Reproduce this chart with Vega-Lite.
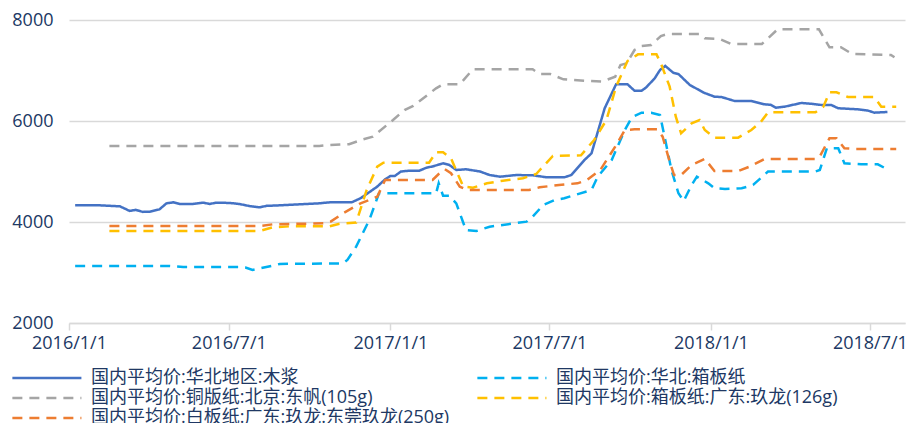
{
"$schema": "https://vega.github.io/schema/vega-lite/v6.json",
"width": 836, "height": 303,
"autosize": {"type": "none"},
"padding": {"left": 69, "top": 20, "right": 4, "bottom": 100},
"background": "white",
"config": {"view": {"stroke": null}, "font": "Open Sans"},
"data": {"values": [
{"s":"国内平均价:华北地区:木浆","d":"2016/01/08","v":4330},
{"s":"国内平均价:华北地区:木浆","d":"2016/02/05","v":4330},
{"s":"国内平均价:华北地区:木浆","d":"2016/02/28","v":4310},
{"s":"国内平均价:华北地区:木浆","d":"2016/03/10","v":4220},
{"s":"国内平均价:华北地区:木浆","d":"2016/03/17","v":4240},
{"s":"国内平均价:华北地区:木浆","d":"2016/03/25","v":4200},
{"s":"国内平均价:华北地区:木浆","d":"2016/04/02","v":4205},
{"s":"国内平均价:华北地区:木浆","d":"2016/04/13","v":4250},
{"s":"国内平均价:华北地区:木浆","d":"2016/04/21","v":4370},
{"s":"国内平均价:华北地区:木浆","d":"2016/04/29","v":4390},
{"s":"国内平均价:华北地区:木浆","d":"2016/05/06","v":4357},
{"s":"国内平均价:华北地区:木浆","d":"2016/05/21","v":4357},
{"s":"国内平均价:华北地区:木浆","d":"2016/06/02","v":4383},
{"s":"国内平均价:华北地区:木浆","d":"2016/06/09","v":4357},
{"s":"国内平均价:华北地区:木浆","d":"2016/06/17","v":4383},
{"s":"国内平均价:华北地区:木浆","d":"2016/07/02","v":4377},
{"s":"国内平均价:华北地区:木浆","d":"2016/07/13","v":4357},
{"s":"国内平均价:华北地区:木浆","d":"2016/07/24","v":4317},
{"s":"国内平均价:华北地区:木浆","d":"2016/08/05","v":4290},
{"s":"国内平均价:华北地区:木浆","d":"2016/08/13","v":4320},
{"s":"国内平均价:华北地区:木浆","d":"2016/08/28","v":4330},
{"s":"国内平均价:华北地区:木浆","d":"2016/10/12","v":4370},
{"s":"国内平均价:华北地区:木浆","d":"2016/10/24","v":4390},
{"s":"国内平均价:华北地区:木浆","d":"2016/11/18","v":4390},
{"s":"国内平均价:华北地区:木浆","d":"2016/11/28","v":4470},
{"s":"国内平均价:华北地区:木浆","d":"2016/12/17","v":4700},
{"s":"国内平均价:华北地区:木浆","d":"2016/12/26","v":4846},
{"s":"国内平均价:华北地区:木浆","d":"2017/01/01","v":4911},
{"s":"国内平均价:华北地区:木浆","d":"2017/01/06","v":4911},
{"s":"国内平均价:华北地区:木浆","d":"2017/01/13","v":5000},
{"s":"国内平均价:华北地区:木浆","d":"2017/01/23","v":5016},
{"s":"国内平均价:华北地区:木浆","d":"2017/02/03","v":5016},
{"s":"国内平均价:华北地区:木浆","d":"2017/02/11","v":5076},
{"s":"国内平均价:华北地区:木浆","d":"2017/02/18","v":5100},
{"s":"国内平均价:华北地区:木浆","d":"2017/03/02","v":5162},
{"s":"国内平均价:华北地区:木浆","d":"2017/03/09","v":5130},
{"s":"国内平均价:华北地区:木浆","d":"2017/03/17","v":5030},
{"s":"国内平均价:华北地区:木浆","d":"2017/03/28","v":5044},
{"s":"国内平均价:华北地区:木浆","d":"2017/04/13","v":5000},
{"s":"国内平均价:华北地区:木浆","d":"2017/04/24","v":4930},
{"s":"国内平均价:华北地区:木浆","d":"2017/05/06","v":4897},
{"s":"国内平均价:华北地区:木浆","d":"2017/05/24","v":4930},
{"s":"国内平均价:华北地区:木浆","d":"2017/06/12","v":4925},
{"s":"国内平均价:华北地区:木浆","d":"2017/06/28","v":4885},
{"s":"国内平均价:华北地区:木浆","d":"2017/07/18","v":4885},
{"s":"国内平均价:华北地区:木浆","d":"2017/07/26","v":4930},
{"s":"国内平均价:华北地区:木浆","d":"2017/08/10","v":5228},
{"s":"国内平均价:华北地区:木浆","d":"2017/08/18","v":5360},
{"s":"国内平均价:华北地区:木浆","d":"2017/09/02","v":6252},
{"s":"国内平均价:华北地区:木浆","d":"2017/09/15","v":6727},
{"s":"国内平均价:华北地区:木浆","d":"2017/09/28","v":6727},
{"s":"国内平均价:华北地区:木浆","d":"2017/10/06","v":6600},
{"s":"国内平均价:华北地区:木浆","d":"2017/10/14","v":6600},
{"s":"国内平均价:华北地区:木浆","d":"2017/10/19","v":6660},
{"s":"国内平均价:华北地区:木浆","d":"2017/10/29","v":6846},
{"s":"国内平均价:华北地区:木浆","d":"2017/11/04","v":7010},
{"s":"国内平均价:华北地区:木浆","d":"2017/11/10","v":7090},
{"s":"国内平均价:华北地区:木浆","d":"2017/11/19","v":6957},
{"s":"国内平均价:华北地区:木浆","d":"2017/11/25","v":6930},
{"s":"国内平均价:华北地区:木浆","d":"2017/12/08","v":6713},
{"s":"国内平均价:华北地区:木浆","d":"2017/12/24","v":6560},
{"s":"国内平均价:华北地区:木浆","d":"2018/01/05","v":6482},
{"s":"国内平均价:华北地区:木浆","d":"2018/01/13","v":6475},
{"s":"国内平均价:华北地区:木浆","d":"2018/01/28","v":6396},
{"s":"国内平均价:华北地区:木浆","d":"2018/02/16","v":6396},
{"s":"国内平均价:华北地区:木浆","d":"2018/03/03","v":6330},
{"s":"国内平均价:华北地区:木浆","d":"2018/03/10","v":6320},
{"s":"国内平均价:华北地区:木浆","d":"2018/03/16","v":6264},
{"s":"国内平均价:华北地区:木浆","d":"2018/03/26","v":6284},
{"s":"国内平均价:华北地区:木浆","d":"2018/04/14","v":6357},
{"s":"国内平均价:华北地区:木浆","d":"2018/04/26","v":6340},
{"s":"国内平均价:华北地区:木浆","d":"2018/05/07","v":6317},
{"s":"国内平均价:华北地区:木浆","d":"2018/05/18","v":6317},
{"s":"国内平均价:华北地区:木浆","d":"2018/05/26","v":6252},
{"s":"国内平均价:华北地区:木浆","d":"2018/06/17","v":6232},
{"s":"国内平均价:华北地区:木浆","d":"2018/06/29","v":6205},
{"s":"国内平均价:华北地区:木浆","d":"2018/07/06","v":6165},
{"s":"国内平均价:华北地区:木浆","d":"2018/07/21","v":6178},
{"s":"国内平均价:华北:箱板纸","d":"2016/01/08","v":3129},
{"s":"国内平均价:华北:箱板纸","d":"2016/04/25","v":3129},
{"s":"国内平均价:华北:箱板纸","d":"2016/05/10","v":3110},
{"s":"国内平均价:华北:箱板纸","d":"2016/07/13","v":3110},
{"s":"国内平均价:华北:箱板纸","d":"2016/07/20","v":3100},
{"s":"国内平均价:华北:箱板纸","d":"2016/07/28","v":3050},
{"s":"国内平均价:华北:箱板纸","d":"2016/08/05","v":3080},
{"s":"国内平均价:华北:箱板纸","d":"2016/08/20","v":3135},
{"s":"国内平均价:华北:箱板纸","d":"2016/08/28","v":3170},
{"s":"国内平均价:华北:箱板纸","d":"2016/11/08","v":3180},
{"s":"国内平均价:华北:箱板纸","d":"2016/11/13","v":3248},
{"s":"国内平均价:华北:箱板纸","d":"2016/11/23","v":3512},
{"s":"国内平均价:华北:箱板纸","d":"2016/12/08","v":4040},
{"s":"国内平均价:华北:箱板纸","d":"2016/12/19","v":4568},
{"s":"国内平均价:华北:箱板纸","d":"2017/02/22","v":4568},
{"s":"国内平均价:华北:箱板纸","d":"2017/02/25","v":4766},
{"s":"国内平均价:华北:箱板纸","d":"2017/03/02","v":4521},
{"s":"国内平均价:华北:箱板纸","d":"2017/03/09","v":4521},
{"s":"国内平均价:华北:箱板纸","d":"2017/03/17","v":4370},
{"s":"国内平均价:华北:箱板纸","d":"2017/03/28","v":3842},
{"s":"国内平均价:华北:箱板纸","d":"2017/04/09","v":3822},
{"s":"国内平均价:华北:箱板纸","d":"2017/04/24","v":3907},
{"s":"国内平均价:华北:箱板纸","d":"2017/06/05","v":4007},
{"s":"国内平均价:华北:箱板纸","d":"2017/06/12","v":4105},
{"s":"国内平均价:华北:箱板纸","d":"2017/06/24","v":4337},
{"s":"国内平均价:华北:箱板纸","d":"2017/07/07","v":4436},
{"s":"国内平均价:华北:箱板纸","d":"2017/07/18","v":4470},
{"s":"国内平均价:华北:箱板纸","d":"2017/08/18","v":4634},
{"s":"国内平均价:华北:箱板纸","d":"2017/08/25","v":4897},
{"s":"国内平均价:华北:箱板纸","d":"2017/09/10","v":5228},
{"s":"国内平均价:华北:箱板纸","d":"2017/09/25","v":5822},
{"s":"国内平均价:华北:箱板纸","d":"2017/10/03","v":6073},
{"s":"国内平均价:华北:箱板纸","d":"2017/10/14","v":6165},
{"s":"国内平均价:华北:箱板纸","d":"2017/10/25","v":6165},
{"s":"国内平均价:华北:箱板纸","d":"2017/11/04","v":6120},
{"s":"国内平均价:华北:箱板纸","d":"2017/11/10","v":5624},
{"s":"国内平均价:华北:箱板纸","d":"2017/11/17","v":5030},
{"s":"国内平均价:华北:箱板纸","d":"2017/11/25","v":4568},
{"s":"国内平均价:华北:箱板纸","d":"2017/12/01","v":4416},
{"s":"国内平均价:华北:箱板纸","d":"2017/12/10","v":4733},
{"s":"国内平均价:华北:箱板纸","d":"2017/12/16","v":4897},
{"s":"国内平均价:华北:箱板纸","d":"2017/12/29","v":4766},
{"s":"国内平均价:华北:箱板纸","d":"2018/01/05","v":4668},
{"s":"国内平均价:华北:箱板纸","d":"2018/01/17","v":4654},
{"s":"国内平均价:华北:箱板纸","d":"2018/02/05","v":4668},
{"s":"国内平均价:华北:箱板纸","d":"2018/02/18","v":4733},
{"s":"国内平均价:华北:箱板纸","d":"2018/03/07","v":5000},
{"s":"国内平均价:华北:箱板纸","d":"2018/04/30","v":5000},
{"s":"国内平均价:华北:箱板纸","d":"2018/05/05","v":5030},
{"s":"国内平均价:华北:箱板纸","d":"2018/05/13","v":5460},
{"s":"国内平均价:华北:箱板纸","d":"2018/05/26","v":5460},
{"s":"国内平均价:华北:箱板纸","d":"2018/06/02","v":5162},
{"s":"国内平均价:华北:箱板纸","d":"2018/06/21","v":5143},
{"s":"国内平均价:华北:箱板纸","d":"2018/07/10","v":5143},
{"s":"国内平均价:华北:箱板纸","d":"2018/07/20","v":5050},
{"s":"国内平均价:铜版纸:北京:东帆(105g)","d":"2016/02/16","v":5505},
{"s":"国内平均价:铜版纸:北京:东帆(105g)","d":"2016/10/12","v":5505},
{"s":"国内平均价:铜版纸:北京:东帆(105g)","d":"2016/10/24","v":5525},
{"s":"国内平均价:铜版纸:北京:东帆(105g)","d":"2016/11/15","v":5540},
{"s":"国内平均价:铜版纸:北京:东帆(105g)","d":"2016/12/01","v":5638},
{"s":"国内平均价:铜版纸:北京:东帆(105g)","d":"2016/12/12","v":5690},
{"s":"国内平均价:铜版纸:北京:东帆(105g)","d":"2017/01/04","v":6020},
{"s":"国内平均价:铜版纸:北京:东帆(105g)","d":"2017/01/17","v":6218},
{"s":"国内平均价:铜版纸:北京:东帆(105g)","d":"2017/01/27","v":6297},
{"s":"国内平均价:铜版纸:北京:东帆(105g)","d":"2017/02/22","v":6647},
{"s":"国内平均价:铜版纸:北京:东帆(105g)","d":"2017/03/02","v":6727},
{"s":"国内平均价:铜版纸:北京:东帆(105g)","d":"2017/03/21","v":6727},
{"s":"国内平均价:铜版纸:北京:东帆(105g)","d":"2017/04/05","v":7024},
{"s":"国内平均价:铜版纸:北京:东帆(105g)","d":"2017/06/12","v":7024},
{"s":"国内平均价:铜版纸:北京:东帆(105g)","d":"2017/06/20","v":6930},
{"s":"国内平均价:铜版纸:北京:东帆(105g)","d":"2017/07/02","v":6930},
{"s":"国内平均价:铜版纸:北京:东帆(105g)","d":"2017/07/17","v":6826},
{"s":"国内平均价:铜版纸:北京:东帆(105g)","d":"2017/08/16","v":6792},
{"s":"国内平均价:铜版纸:北京:东帆(105g)","d":"2017/08/30","v":6779},
{"s":"国内平均价:铜版纸:北京:东帆(105g)","d":"2017/09/14","v":6877},
{"s":"国内平均价:铜版纸:北京:东帆(105g)","d":"2017/09/20","v":7109},
{"s":"国内平均价:铜版纸:北京:东帆(105g)","d":"2017/09/27","v":7143},
{"s":"国内平均价:铜版纸:北京:东帆(105g)","d":"2017/10/06","v":7406},
{"s":"国内平均价:铜版纸:北京:东帆(105g)","d":"2017/10/14","v":7485},
{"s":"国内平均价:铜版纸:北京:东帆(105g)","d":"2017/10/25","v":7505},
{"s":"国内平均价:铜版纸:北京:东帆(105g)","d":"2017/11/05","v":7683},
{"s":"国内平均价:铜版纸:北京:东帆(105g)","d":"2017/11/13","v":7723},
{"s":"国内平均价:铜版纸:北京:东帆(105g)","d":"2017/12/19","v":7723},
{"s":"国内平均价:铜版纸:北京:东帆(105g)","d":"2017/12/25","v":7637},
{"s":"国内平均价:铜版纸:北京:东帆(105g)","d":"2018/01/11","v":7624},
{"s":"国内平均价:铜版纸:北京:东帆(105g)","d":"2018/01/24","v":7525},
{"s":"国内平均价:铜版纸:北京:东帆(105g)","d":"2018/02/28","v":7525},
{"s":"国内平均价:铜版纸:北京:东帆(105g)","d":"2018/03/18","v":7816},
{"s":"国内平均价:铜版纸:北京:东帆(105g)","d":"2018/05/04","v":7816},
{"s":"国内平均价:铜版纸:北京:东帆(105g)","d":"2018/05/16","v":7460},
{"s":"国内平均价:铜版纸:北京:东帆(105g)","d":"2018/05/29","v":7460},
{"s":"国内平均价:铜版纸:北京:东帆(105g)","d":"2018/06/11","v":7327},
{"s":"国内平均价:铜版纸:北京:东帆(105g)","d":"2018/07/25","v":7307},
{"s":"国内平均价:铜版纸:北京:东帆(105g)","d":"2018/07/29","v":7261},
{"s":"国内平均价:箱板纸:广东:玖龙(126g)","d":"2016/02/16","v":3822},
{"s":"国内平均价:箱板纸:广东:玖龙(126g)","d":"2016/08/05","v":3822},
{"s":"国内平均价:箱板纸:广东:玖龙(126g)","d":"2016/08/20","v":3894},
{"s":"国内平均价:箱板纸:广东:玖龙(126g)","d":"2016/09/08","v":3914},
{"s":"国内平均价:箱板纸:广东:玖龙(126g)","d":"2016/10/24","v":3914},
{"s":"国内平均价:箱板纸:广东:玖龙(126g)","d":"2016/11/04","v":3966},
{"s":"国内平均价:箱板纸:广东:玖龙(126g)","d":"2016/11/23","v":3990},
{"s":"国内平均价:箱板纸:广东:玖龙(126g)","d":"2016/12/05","v":4634},
{"s":"国内平均价:箱板纸:广东:玖龙(126g)","d":"2016/12/17","v":5096},
{"s":"国内平均价:箱板纸:广东:玖龙(126g)","d":"2016/12/24","v":5175},
{"s":"国内平均价:箱板纸:广东:玖龙(126g)","d":"2017/02/14","v":5175},
{"s":"国内平均价:箱板纸:广东:玖龙(126g)","d":"2017/02/22","v":5380},
{"s":"国内平均价:箱板纸:广东:玖龙(126g)","d":"2017/03/02","v":5380},
{"s":"国内平均价:箱板纸:广东:玖龙(126g)","d":"2017/03/11","v":5261},
{"s":"国内平均价:箱板纸:广东:玖龙(126g)","d":"2017/03/25","v":4700},
{"s":"国内平均价:箱板纸:广东:玖龙(126g)","d":"2017/04/05","v":4680},
{"s":"国内平均价:箱板纸:广东:玖龙(126g)","d":"2017/04/21","v":4766},
{"s":"国内平均价:箱板纸:广东:玖龙(126g)","d":"2017/05/09","v":4818},
{"s":"国内平均价:箱板纸:广东:玖龙(126g)","d":"2017/06/01","v":4866},
{"s":"国内平均价:箱板纸:广东:玖龙(126g)","d":"2017/06/16","v":4950},
{"s":"国内平均价:箱板纸:广东:玖龙(126g)","d":"2017/07/05","v":5307},
{"s":"国内平均价:箱板纸:广东:玖龙(126g)","d":"2017/08/06","v":5320},
{"s":"国内平均价:箱板纸:广东:玖龙(126g)","d":"2017/08/21","v":5624},
{"s":"国内平均价:箱板纸:广东:玖龙(126g)","d":"2017/09/04","v":6020},
{"s":"国内平均价:箱板纸:广东:玖龙(126g)","d":"2017/09/15","v":6680},
{"s":"国内平均价:箱板纸:广东:玖龙(126g)","d":"2017/09/28","v":7188},
{"s":"国内平均价:箱板纸:广东:玖龙(126g)","d":"2017/10/10","v":7320},
{"s":"国内平均价:箱板纸:广东:玖龙(126g)","d":"2017/10/31","v":7320},
{"s":"国内平均价:箱板纸:广东:玖龙(126g)","d":"2017/11/05","v":7142},
{"s":"国内平均价:箱板纸:广东:玖龙(126g)","d":"2017/11/15","v":6680},
{"s":"国内平均价:箱板纸:广东:玖龙(126g)","d":"2017/11/22","v":6086},
{"s":"国内平均价:箱板纸:广东:玖龙(126g)","d":"2017/11/28","v":5756},
{"s":"国内平均价:箱板纸:广东:玖龙(126g)","d":"2017/12/10","v":5954},
{"s":"国内平均价:箱板纸:广东:玖龙(126g)","d":"2017/12/19","v":6020},
{"s":"国内平均价:箱板纸:广东:玖龙(126g)","d":"2017/12/25","v":5822},
{"s":"国内平均价:箱板纸:广东:玖龙(126g)","d":"2018/01/05","v":5670},
{"s":"国内平均价:箱板纸:广东:玖龙(126g)","d":"2018/02/01","v":5670},
{"s":"国内平均价:箱板纸:广东:玖龙(126g)","d":"2018/02/16","v":5822},
{"s":"国内平均价:箱板纸:广东:玖龙(126g)","d":"2018/02/27","v":5987},
{"s":"国内平均价:箱板纸:广东:玖龙(126g)","d":"2018/03/07","v":6172},
{"s":"国内平均价:箱板纸:广东:玖龙(126g)","d":"2018/04/30","v":6172},
{"s":"国内平均价:箱板纸:广东:玖龙(126g)","d":"2018/05/09","v":6284},
{"s":"国内平均价:箱板纸:广东:玖龙(126g)","d":"2018/05/16","v":6568},
{"s":"国内平均价:箱板纸:广东:玖龙(126g)","d":"2018/05/24","v":6568},
{"s":"国内平均价:箱板纸:广东:玖龙(126g)","d":"2018/06/06","v":6475},
{"s":"国内平均价:箱板纸:广东:玖龙(126g)","d":"2018/07/06","v":6475},
{"s":"国内平均价:箱板纸:广东:玖龙(126g)","d":"2018/07/14","v":6284},
{"s":"国内平均价:箱板纸:广东:玖龙(126g)","d":"2018/07/31","v":6284},
{"s":"国内平均价:白板纸:广东:玖龙:东莞玖龙(250g)","d":"2016/02/16","v":3920},
{"s":"国内平均价:白板纸:广东:玖龙:东莞玖龙(250g)","d":"2016/08/05","v":3920},
{"s":"国内平均价:白板纸:广东:玖龙:东莞玖龙(250g)","d":"2016/08/20","v":3954},
{"s":"国内平均价:白板纸:广东:玖龙:东莞玖龙(250g)","d":"2016/10/19","v":3974},
{"s":"国内平均价:白板纸:广东:玖龙:东莞玖龙(250g)","d":"2016/10/25","v":4007},
{"s":"国内平均价:白板纸:广东:玖龙:东莞玖龙(250g)","d":"2016/11/08","v":4172},
{"s":"国内平均价:白板纸:广东:玖龙:东莞玖龙(250g)","d":"2016/11/28","v":4370},
{"s":"国内平均价:白板纸:广东:玖龙:东莞玖龙(250g)","d":"2016/12/08","v":4436},
{"s":"国内平均价:白板纸:广东:玖龙:东莞玖龙(250g)","d":"2016/12/17","v":4500},
{"s":"国内平均价:白板纸:广东:玖龙:东莞玖龙(250g)","d":"2016/12/26","v":4832},
{"s":"国内平均价:白板纸:广东:玖龙:东莞玖龙(250g)","d":"2017/02/18","v":4832},
{"s":"国内平均价:白板纸:广东:玖龙:东莞玖龙(250g)","d":"2017/02/25","v":4950},
{"s":"国内平均价:白板纸:广东:玖龙:东莞玖龙(250g)","d":"2017/03/04","v":5044},
{"s":"国内平均价:白板纸:广东:玖龙:东莞玖龙(250g)","d":"2017/03/11","v":4965},
{"s":"国内平均价:白板纸:广东:玖龙:东莞玖龙(250g)","d":"2017/03/21","v":4700},
{"s":"国内平均价:白板纸:广东:玖龙:东莞玖龙(250g)","d":"2017/03/30","v":4634},
{"s":"国内平均价:白板纸:广东:玖龙:东莞玖龙(250g)","d":"2017/06/08","v":4634},
{"s":"国内平均价:白板纸:广东:玖龙:东莞玖龙(250g)","d":"2017/06/20","v":4687},
{"s":"国内平均价:白板纸:广东:玖龙:东莞玖龙(250g)","d":"2017/07/12","v":4733},
{"s":"国内平均价:白板纸:广东:玖龙:东莞玖龙(250g)","d":"2017/08/02","v":4766},
{"s":"国内平均价:白板纸:广东:玖龙:东莞玖龙(250g)","d":"2017/08/13","v":4832},
{"s":"国内平均价:白板纸:广东:玖龙:东莞玖龙(250g)","d":"2017/08/28","v":5030},
{"s":"国内平均价:白板纸:广东:玖龙:东莞玖龙(250g)","d":"2017/09/14","v":5491},
{"s":"国内平均价:白板纸:广东:玖龙:东莞玖龙(250g)","d":"2017/09/25","v":5822},
{"s":"国内平均价:白板纸:广东:玖龙:东莞玖龙(250g)","d":"2017/10/06","v":5835},
{"s":"国内平均价:白板纸:广东:玖龙:东莞玖龙(250g)","d":"2017/11/01","v":5835},
{"s":"国内平均价:白板纸:广东:玖龙:东莞玖龙(250g)","d":"2017/11/07","v":5690},
{"s":"国内平均价:白板纸:广东:玖龙:东莞玖龙(250g)","d":"2017/11/15","v":5195},
{"s":"国内平均价:白板纸:广东:玖龙:东莞玖龙(250g)","d":"2017/11/20","v":4930},
{"s":"国内平均价:白板纸:广东:玖龙:东莞玖龙(250g)","d":"2017/11/28","v":4930},
{"s":"国内平均价:白板纸:广东:玖龙:东莞玖龙(250g)","d":"2017/12/10","v":5129},
{"s":"国内平均价:白板纸:广东:玖龙:东莞玖龙(250g)","d":"2017/12/25","v":5250},
{"s":"国内平均价:白板纸:广东:玖龙:东莞玖龙(250g)","d":"2018/01/05","v":5010},
{"s":"国内平均价:白板纸:广东:玖龙:东莞玖龙(250g)","d":"2018/02/01","v":5010},
{"s":"国内平均价:白板纸:广东:玖龙:东莞玖龙(250g)","d":"2018/02/14","v":5096},
{"s":"国内平均价:白板纸:广东:玖龙:东莞玖龙(250g)","d":"2018/03/03","v":5248},
{"s":"国内平均价:白板纸:广东:玖龙:东莞玖龙(250g)","d":"2018/04/30","v":5248},
{"s":"国内平均价:白板纸:广东:玖龙:东莞玖龙(250g)","d":"2018/05/05","v":5300},
{"s":"国内平均价:白板纸:广东:玖龙:东莞玖龙(250g)","d":"2018/05/16","v":5658},
{"s":"国内平均价:白板纸:广东:玖龙:东莞玖龙(250g)","d":"2018/05/24","v":5658},
{"s":"国内平均价:白板纸:广东:玖龙:东莞玖龙(250g)","d":"2018/06/02","v":5460},
{"s":"国内平均价:白板纸:广东:玖龙:东莞玖龙(250g)","d":"2018/06/15","v":5446},
{"s":"国内平均价:白板纸:广东:玖龙:东莞玖龙(250g)","d":"2018/07/31","v":5446}
]},
"mark": {"type": "line", "strokeWidth": 2.5, "clip": true},
"encoding": {
"x": {"field": "d", "type": "temporal",
 "scale": {"domain": [{"year": 2016, "month": 1, "date": 1}, {"year": 2018, "month": 8, "date": 10}]},
 "axis": {"title": null, "grid": false, "format": "%Y/%-m/%-d",
  "values": [{"year": 2016, "month": 1, "date": 1}, {"year": 2016, "month": 7, "date": 1}, {"year": 2017, "month": 1, "date": 1}, {"year": 2017, "month": 7, "date": 1}, {"year": 2018, "month": 1, "date": 1}, {"year": 2018, "month": 7, "date": 1}],
  "domainColor": "#d9d9d9", "domainWidth": 1.5, "tickColor": "#d9d9d9", "tickWidth": 1.5, "tickSize": 7,
  "labelFont": "Open Sans", "labelFontSize": 18, "labelColor": "#203864", "labelPadding": 4, "labelFlush": false, "labelOverlap": false}},
"y": {"field": "v", "type": "quantitative",
 "scale": {"domain": [2000, 8000], "nice": false, "zero": false},
 "axis": {"title": null, "values": [2000, 4000, 6000, 8000], "grid": true, "gridColor": "#d9d9d9", "gridWidth": 1.5,
  "domain": false, "ticks": false, "tickSize": 0, "labelPadding": 16, "format": "d",
  "labelFont": "Open Sans", "labelFontSize": 18, "labelColor": "#203864"}},
"color": {"field": "s", "type": "nominal",
 "scale": {"domain": ["国内平均价:华北地区:木浆", "国内平均价:铜版纸:北京:东帆(105g)", "国内平均价:白板纸:广东:玖龙:东莞玖龙(250g)", "国内平均价:华北:箱板纸", "国内平均价:箱板纸:广东:玖龙(126g)"],
  "range": ["#4472C4", "#A5A5A5", "#ED7D31", "#00B0F0", "#FFC000"]},
 "legend": {"title": null, "orient": "none", "legendX": -58, "legendY": 348, "columns": 2, "columnPadding": 22, "rowPadding": 1, "padding": 0,
  "symbolType": "M-1,0H7", "symbolSize": 298, "symbolStrokeWidth": 2.5, "symbolFillColor": "transparent", "labelFontSize": 18, "labelFont": "Open Sans, Noto Sans CJK SC", "labelColor": "#203864", "labelOffset": 60, "labelLimit": 600}},
"strokeDash": {"field": "s", "type": "nominal",
 "scale": {"domain": ["国内平均价:华北地区:木浆", "国内平均价:铜版纸:北京:东帆(105g)", "国内平均价:白板纸:广东:玖龙:东莞玖龙(250g)", "国内平均价:华北:箱板纸", "国内平均价:箱板纸:广东:玖龙(126g)"],
  "range": [[1, 0], [10, 7], [10, 7], [10, 7], [10, 7]]},
 "legend": {"title": null, "orient": "none", "legendX": -58, "legendY": 348, "columns": 2, "columnPadding": 22, "rowPadding": 1, "padding": 0,
  "symbolType": "M-1,0H7", "symbolSize": 298, "symbolStrokeWidth": 2.5, "symbolFillColor": "transparent", "labelFontSize": 18, "labelFont": "Open Sans, Noto Sans CJK SC", "labelColor": "#203864", "labelOffset": 60, "labelLimit": 600}}
}
}
